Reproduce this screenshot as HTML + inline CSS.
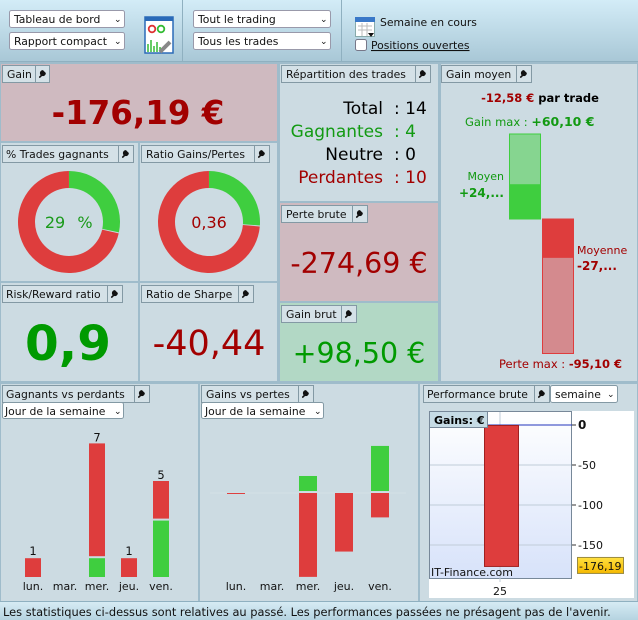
<!DOCTYPE html>
<html><head><meta charset="utf-8">
<style>
html,body{margin:0;padding:0;width:638px;height:620px;overflow:hidden;background:#ccdbe2;}
svg{display:block;font-family:"DejaVu Sans","Liberation Sans",sans-serif;}
.t{font-size:10.8px;fill:#111;}
</style></head>
<body>
<svg id="root" width="638" height="620" viewBox="0 0 638 620">
<defs>
<linearGradient id="tb" x1="0" y1="0" x2="0" y2="1"><stop offset="0" stop-color="#d3ecf7"/><stop offset="1" stop-color="#a8c7d6"/></linearGradient>
<linearGradient id="pg" x1="0" y1="0" x2="0" y2="1"><stop offset="0" stop-color="#ffffff"/><stop offset="1" stop-color="#d7e2fa"/></linearGradient>
<linearGradient id="sb" x1="0" y1="0" x2="0" y2="1"><stop offset="0" stop-color="#d6ebf4"/><stop offset="1" stop-color="#b5d3e0"/></linearGradient>
<linearGradient id="yl" x1="0" y1="0" x2="0" y2="1"><stop offset="0" stop-color="#ffe040"/><stop offset="1" stop-color="#f5b800"/></linearGradient>
<symbol id="wr" viewBox="0 0 10 10"><path d="M2 9 L6 5 M5.2 2.2 A2.4 2.4 0 1 0 7.8 4.8 L6.5 3.5 Z" stroke="#111" stroke-width="1.8" fill="#111" stroke-linecap="round"/></symbol>
</defs>

<rect x="0" y="0" width="638" height="62" fill="url(#tb)"/>
<rect x="0" y="61" width="638" height="2" fill="#8fb0c0"/>
<rect x="182" y="0" width="1" height="62" fill="#8fb0c0"/>
<rect x="341" y="0" width="1" height="62" fill="#8fb0c0"/>
<g><rect x="9.5" y="10.5" width="115" height="17" rx="2" fill="#fff" stroke="#99a"/><text class="t" x="14" y="23">Tableau de bord</text><text class="t" x="114" y="22" style="font-size:9px">⌄</text></g>
<g><rect x="9.5" y="32.5" width="115" height="17" rx="2" fill="#fff" stroke="#99a"/><text class="t" x="14" y="45">Rapport compact</text><text class="t" x="114" y="44" style="font-size:9px">⌄</text></g>
<g><rect x="145" y="17" width="28" height="36" fill="#fff" stroke="#2a6ab8" stroke-width="1.5"/><rect x="145" y="17" width="28" height="4" fill="#2a6ab8"/><circle cx="152" cy="29" r="3.3" fill="none" stroke="#d33" stroke-width="1.8"/><circle cx="161" cy="29" r="3.3" fill="none" stroke="#3b3" stroke-width="1.8"/><path d="M148 52 V44 M151 52 V40 M154 52 V46 M157 52 V42 M160 52 V47" stroke="#3b3" stroke-width="1.5"/><path d="M160 52 L170 42" stroke="#888" stroke-width="4"/></g>
<g><rect x="193.5" y="10.5" width="137" height="17" rx="2" fill="#fff" stroke="#99a"/><text class="t" x="198" y="23">Tout le trading</text><text class="t" x="320" y="22" style="font-size:9px">⌄</text></g>
<g><rect x="193.5" y="32.5" width="137" height="17" rx="2" fill="#fff" stroke="#99a"/><text class="t" x="198" y="45">Tous les trades</text><text class="t" x="320" y="44" style="font-size:9px">⌄</text></g>
<g><rect x="355.5" y="17.5" width="19" height="19" fill="#fff" stroke="#8aa"/><rect x="355" y="17" width="20" height="5" fill="#3a78c8"/><path d="M358 26 H372 M358 30 H372 M362 23 V36 M367 23 V36" stroke="#bbb"/><path d="M368 33 L374 33 L371 37 Z" fill="#111"/></g>
<text class="t" x="380" y="26">Semaine en cours</text>
<rect x="355.5" y="39.5" width="11" height="11" rx="2" fill="#fff" stroke="#778"/>
<text class="t" x="371" y="49" text-decoration="underline">Positions ouvertes</text>

<g stroke="#9fbccb" stroke-width="2">
<rect x="0" y="63" width="278" height="79" fill="#cfbac0"/>
<rect x="0" y="142" width="139" height="140" fill="#ccdbe2"/>
<rect x="139" y="142" width="139" height="140" fill="#ccdbe2"/>
<rect x="0" y="282" width="139" height="100" fill="#ccdbe2"/>
<rect x="139" y="282" width="139" height="100" fill="#ccdbe2"/>
<rect x="279" y="63" width="160" height="139" fill="#ccdbe2"/>
<rect x="279" y="202" width="160" height="100" fill="#cfbac0"/>
<rect x="279" y="302" width="160" height="80" fill="#b2d8c5"/>
<rect x="440" y="63" width="198" height="319" fill="#ccdbe2"/>
<rect x="0" y="383" width="199" height="219" fill="#ccdbe2"/>
<rect x="199" y="383" width="220" height="219" fill="#ccdbe2"/>
<rect x="419" y="383" width="219" height="219" fill="#ccdbe2"/>
</g>

<g fill="#d4e1e7" stroke="#8399a4" stroke-width="1">
<rect x="2.5" y="65.5" width="47" height="17"/><rect x="35.5" y="65.5" width="14" height="17"/>
<rect x="281.5" y="65.5" width="149" height="17"/><rect x="415.5" y="65.5" width="15" height="17"/>
<rect x="441.5" y="65.5" width="90" height="17"/><rect x="516.5" y="65.5" width="15" height="17"/>
<rect x="2.5" y="145.5" width="131" height="17"/><rect x="118.5" y="145.5" width="15" height="17"/>
<rect x="141.5" y="145.5" width="128" height="17"/><rect x="254.5" y="145.5" width="15" height="17"/>
<rect x="281.5" y="205.5" width="86" height="17"/><rect x="352.5" y="205.5" width="15" height="17"/>
<rect x="2.5" y="285.5" width="120" height="17"/><rect x="107.5" y="285.5" width="15" height="17"/>
<rect x="141.5" y="285.5" width="112" height="17"/><rect x="238.5" y="285.5" width="15" height="17"/>
<rect x="281.5" y="305.5" width="75" height="17"/><rect x="341.5" y="305.5" width="15" height="17"/>
<rect x="2.5" y="385.5" width="147" height="17"/><rect x="134.5" y="385.5" width="15" height="17"/>
<rect x="201.5" y="385.5" width="112" height="17"/><rect x="298.5" y="385.5" width="15" height="17"/>
<rect x="423.5" y="385.5" width="126" height="17"/><rect x="534.5" y="385.5" width="15" height="17"/>
</g>
<g class="tabs">
<text class="t" x="7" y="78">Gain</text>
<text class="t" x="286" y="78">Répartition des trades</text>
<text class="t" x="446" y="78">Gain moyen</text>
<text class="t" x="6" y="158">% Trades gagnants</text>
<text class="t" x="146" y="158">Ratio Gains/Pertes</text>
<text class="t" x="286" y="218">Perte brute</text>
<text class="t" x="6" y="298">Risk/Reward ratio</text>
<text class="t" x="146" y="298">Ratio de Sharpe</text>
<text class="t" x="286" y="318">Gain brut</text>
<text class="t" x="6" y="398">Gagnants vs perdants</text>
<text class="t" x="206" y="398">Gains vs pertes</text>
<text class="t" x="427" y="398">Performance brute</text>
</g>
<g>
<use href="#wr" x="38" y="69" width="9" height="9"/><use href="#wr" x="418" y="69" width="9" height="9"/><use href="#wr" x="519" y="69" width="9" height="9"/>
<use href="#wr" x="121" y="149" width="9" height="9"/><use href="#wr" x="257" y="149" width="9" height="9"/><use href="#wr" x="355" y="209" width="9" height="9"/>
<use href="#wr" x="110" y="289" width="9" height="9"/><use href="#wr" x="241" y="289" width="9" height="9"/><use href="#wr" x="344" y="309" width="9" height="9"/>
<use href="#wr" x="137" y="389" width="9" height="9"/><use href="#wr" x="301" y="389" width="9" height="9"/><use href="#wr" x="537" y="389" width="9" height="9"/>
</g>

<text x="138" y="124" text-anchor="middle" font-size="32.5" font-weight="bold" fill="#a20000">-176,19 €</text>
<text x="68" y="360" text-anchor="middle" font-size="48.5" font-weight="bold" fill="#009a00">0,9</text>
<text x="209" y="355" text-anchor="middle" font-size="35" fill="#a20000">-40,44</text>
<text x="359" y="273" text-anchor="middle" font-size="28.5" fill="#a20000">-274,69 €</text>
<text x="359" y="363" text-anchor="middle" font-size="28.5" fill="#009a00">+98,50 €</text>

<g font-size="17">
<text x="383" y="114" text-anchor="end" fill="#000">Total</text><text x="394" y="114" fill="#000">: 14</text>
<text x="383" y="137" text-anchor="end" fill="#129a12">Gagnantes</text><text x="394" y="137" fill="#129a12">: 4</text>
<text x="383" y="160" text-anchor="end" fill="#000">Neutre</text><text x="394" y="160" fill="#000">: 0</text>
<text x="383" y="183" text-anchor="end" fill="#a20000">Perdantes</text><text x="394" y="183" fill="#a20000">: 10</text>
</g>

<g id="donuts"></g>
<g font-size="16" fill="#1a9a1a"><text x="55" y="228" text-anchor="middle">29</text><text x="85" y="228" text-anchor="middle">%</text></g>
<text x="209" y="228" text-anchor="middle" font-size="16" fill="#a20000">0,36</text>

<text x="540" y="102" text-anchor="middle" font-size="11.5" font-weight="bold"><tspan fill="#a20000">-12,58 €</tspan><tspan fill="#000"> par trade</tspan></text>
<g id="avg"></g>
<text x="465" y="126" font-size="11.5" fill="#129a12">Gain max  :  <tspan font-weight="bold" font-size="12.5">+60,10 €</tspan></text>
<text x="504" y="180" text-anchor="end" font-size="11" fill="#129a12">Moyen</text>
<text x="504" y="197" text-anchor="end" font-size="12" font-weight="bold" fill="#129a12">+24,...</text>
<text x="577" y="254" font-size="11" fill="#a20000">Moyenne</text>
<text x="577" y="270" font-size="12" font-weight="bold" fill="#a20000">-27,...</text>
<text x="622" y="368" text-anchor="end" font-size="11.5" fill="#a20000">Perte max  : <tspan font-weight="bold">-95,10 €</tspan></text>

<g><rect x="2.5" y="402.5" width="121" height="16" rx="2" fill="#fff" stroke="#8399a4"/><text class="t" x="5" y="415">Jour de la semaine</text><text class="t" x="114" y="414" style="font-size:9px">⌄</text></g>
<g><rect x="201.5" y="402.5" width="122" height="16" rx="2" fill="#fff" stroke="#8399a4"/><text class="t" x="205" y="415">Jour de la semaine</text><text class="t" x="314" y="414" style="font-size:9px">⌄</text></g>
<g><rect x="550.5" y="385.5" width="67" height="17" rx="2" fill="#fff" stroke="#8399a4"/><text class="t" x="555" y="398">semaine</text><text class="t" x="607" y="397" style="font-size:9px">⌄</text></g>

<g id="wl"></g>
<g id="gl"></g>

<rect x="429" y="411" width="205" height="187" fill="#fff"/>
<rect x="429.5" y="411.5" width="142" height="167" fill="url(#pg)" stroke="#778899"/>
<g id="perf"></g>
<rect x="429.5" y="411.5" width="58" height="16" fill="#c6dbe5" stroke="#778899"/>
<text x="434" y="424" font-size="11" font-weight="bold">Gains: €</text>
<text x="431" y="576" font-size="11" fill="#111">IT-Finance.com</text>

<rect x="0" y="602" width="638" height="18" fill="url(#sb)"/>
<rect x="0" y="601" width="638" height="1" fill="#8fb0c0"/>
<text x="3" y="616" font-size="11.4" fill="#111">Les statistiques ci-dessus sont relatives au passé. Les performances passées ne présagent pas de l'avenir.</text>
</svg>
<script>
const NS = "http://www.w3.org/2000/svg";
const winLossCounts = [4, 10];
const gainLossAmounts = [98.50, 274.69];
const avgValues = [60.10, 24.60, -27.47, -95.10];
const days = ["lun.", "mar.", "mer.", "jeu.", "ven."];
const winnersByDay = [0, 0, 1, 0, 3];
const losersByDay = [1, 0, 6, 1, 2];
const gainsByDay = [0, 0, 24.6, 0, 73.9];
const lossesByDay = [1.6, 0, 137.5, 96, 40];
const perfWeeks = ["25"];
const perfValues = [-176.19];
const perfTicks = [0, -50, -100, -150];

function mk(tag, attrs, parent) {
  const e = document.createElementNS(NS, tag);
  for (const k in attrs) e.setAttribute(k, attrs[k]);
  parent.appendChild(e);
  return e;
}
function arc(cx, cy, r0, r1, a0, a1) {
  const p = (r, a) => [cx + r * Math.sin(a), cy - r * Math.cos(a)];
  const large = (a1 - a0) > Math.PI ? 1 : 0;
  const [x1, y1] = p(r1, a0), [x2, y2] = p(r1, a1), [x3, y3] = p(r0, a1), [x4, y4] = p(r0, a0);
  return `M${x1} ${y1} A${r1} ${r1} 0 ${large} 1 ${x2} ${y2} L${x3} ${y3} A${r0} ${r0} 0 ${large} 0 ${x4} ${y4} Z`;
}
function donut(cx, vals, name) {
  const g = document.getElementById("donuts");
  const tot = vals[0] + vals[1];
  const a = 2 * Math.PI * vals[0] / tot;
  const gap = 0.02;
  const s1 = mk("path", { d: arc(cx, 222, 34, 51, 0, a - gap), fill: "#3fce3f" }, g);
  
  
  const s2 = mk("path", { d: arc(cx, 222, 34, 51, a, 2 * Math.PI - 0.001), fill: "#de3d3d" }, g);
  
  
}
donut(69, winLossCounts, "win-rate");
donut(209, gainLossAmounts, "ratio");

(function () {
  const g = document.getElementById("avg");
  const zero = 219, k = 85 / 60.10;
  const y = v => zero - v * k;
  const b1 = mk("rect", { x: 509.5, y: y(avgValues[0]), width: 31, height: zero - y(avgValues[0]), fill: "#86d590", stroke: "#3fce3f" }, g);
  
  
  const b2 = mk("rect", { x: 509.5, y: y(avgValues[1]), width: 31, height: zero - y(avgValues[1]), fill: "#3fce3f" }, g);
  
  
  const b3 = mk("rect", { x: 542.5, y: zero, width: 31, height: y(avgValues[3]) - zero, fill: "#d48a8e", stroke: "#de3d3d" }, g);
  
  
  const b4 = mk("rect", { x: 542.5, y: zero, width: 31, height: y(avgValues[2]) - zero, fill: "#de3d3d" }, g);
  
  
})();

(function () {
  const g = document.getElementById("wl");
  const base = 577, u = 18.8;
  const cx = i => 33 + i * 32;
  days.forEach((d, i) => {
    const w = winnersByDay[i], l = losersByDay[i];
    const wh = w * u, lh = l * u;
    if (w > 0) {
      const r = mk("rect", { x: cx(i) - 8, y: base - wh, width: 16, height: wh, fill: "#3fce3f" }, g);
      
      
    }
    if (l > 0) {
      const off = w > 0 ? 2 : 0;
      const r = mk("rect", { x: cx(i) - 8, y: base - wh - off - lh, width: 16, height: lh, fill: "#de3d3d" }, g);
      
      
    }
    if (w + l > 0) {
      const t = mk("text", { x: cx(i), y: base - wh - lh - (w > 0 ? 4 : 3), "text-anchor": "middle", "font-size": 11.5, fill: "#111" }, g);
      t.textContent = w + l;
      
      
    }
    const lb = mk("text", { x: cx(i), y: 590, "text-anchor": "middle", "font-size": 11, fill: "#111" }, g);
    lb.textContent = d;
    
    
  });
})();

(function () {
  const g = document.getElementById("gl");
  const zero = 493, k = 0.61;
  const cx = i => 236 + i * 36;
  const ln = mk("line", { x1: 210, x2: 406, y1: zero, y2: zero, stroke: "#d4e0e6", "stroke-width": 1 }, g);
  
  
  days.forEach((d, i) => {
    const gh = gainsByDay[i] * k, lh = lossesByDay[i] * k;
    if (gh > 0) {
      const r = mk("rect", { x: cx(i) - 9, y: zero - 2 - gh, width: 18, height: gh, fill: "#3fce3f" }, g);
      
      
    }
    if (lh > 0) {
      const r = mk("rect", { x: cx(i) - 9, y: zero, width: 18, height: lh, fill: "#de3d3d" }, g);
      
      
    }
    const lb = mk("text", { x: cx(i), y: 590, "text-anchor": "middle", "font-size": 11, fill: "#111" }, g);
    lb.textContent = d;
    
    
  });
})();

(function () {
  const g = document.getElementById("perf");
  const zero = 425, k = 0.8;
  const y = v => zero - v * k;
  perfTicks.forEach((t, i) => {
    if (t !== 0) {
      const gl = mk("line", { x1: 430, x2: 571, y1: y(t), y2: y(t), stroke: "#c0ccd8" }, g);
      
      
    }
    const tk = mk("line", { x1: 572, x2: 576, y1: y(t), y2: y(t), stroke: "#333" }, g);
    
    
    const tx = mk("text", { x: 578, y: y(t) + 4, "font-size": t === 0 ? 12 : 11, "font-weight": t === 0 ? "bold" : "normal", fill: "#111" }, g);
    tx.textContent = t;
    
    
  });
  const vx = 500;
  const vg = mk("line", { x1: vx, x2: vx, y1: 412, y2: 582, stroke: "#c0ccd8" }, g);
  
  
  const zl = mk("line", { x1: 430, x2: 572, y1: zero, y2: zero, stroke: "#2233bb" }, g);
  
  
  perfValues.forEach((v, i) => {
    const top = Math.min(y(v), zero), h = Math.abs(y(v) - zero);
    const b = mk("rect", { x: 484.5, y: top + 0.5, width: 34, height: h, fill: "#de3d3d", stroke: "#a02020" }, g);
    
    
    const wl = mk("text", { x: vx, y: 595, "text-anchor": "middle", "font-size": 11, fill: "#111" }, g);
    wl.textContent = perfWeeks[i];
    
    
    const lb = mk("rect", { x: 577.5, y: y(v) - 8.5, width: 46, height: 16, fill: "url(#yl)", stroke: "#9a8a40" }, g);
    
    
    const lt = mk("text", { x: 579, y: y(v) + 4, "font-size": 11, fill: "#111" }, g);
    lt.textContent = v.toFixed(2).replace('.', ',');
    
    
  });
})();
</script>
</body></html>
